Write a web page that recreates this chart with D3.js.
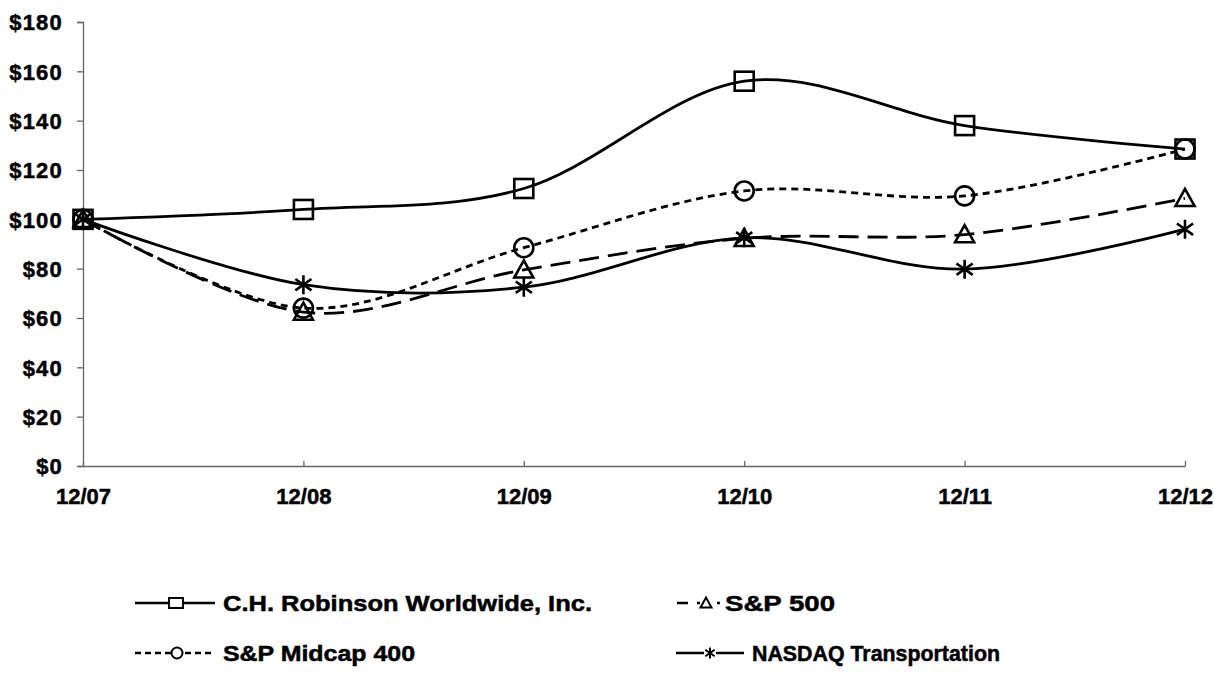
<!DOCTYPE html>
<html>
<head>
<meta charset="utf-8">
<script src="https://cdn.jsdelivr.net/npm/d3@7"></script>
<style>
  body { margin: 0; background: #fff; }
  svg text { font-family: "Liberation Sans", Arial, sans-serif; font-weight: bold; fill: #000; stroke: #000; stroke-width: 0.5px; }
</style>
</head>
<body>
<svg id="chart" width="1215" height="687"></svg>
<script>
// Periods on the x axis
var periods = ["12/07", "12/08", "12/09", "12/10", "12/11", "12/12"];

// Cumulative total return of $100 for each series
var chrw    = [100, 104, 112.5, 156, 138, 128.5];
var sp500   = [100, 62.4, 79.5, 92.3, 93.8, 108.5];
var midcap  = [100, 64, 88.5, 111.5, 109.5, 128.5];
var nasdaqT = [100, 73.5, 72.5, 92.5, 79.8, 96];

var seriesNames = ["C.H. Robinson Worldwide, Inc.", "S&P 500", "S&P Midcap 400", "NASDAQ Transportation"];
var yTicks = [0, 20, 40, 60, 80, 100, 120, 140, 160, 180];

var series = [
    {name: seriesNames[0], values: chrw,    marker: "square",   dash: null},
    {name: seriesNames[1], values: sp500,   marker: "triangle", dash: "20,9"},
    {name: seriesNames[2], values: midcap,  marker: "circle",   dash: "7,5"},
    {name: seriesNames[3], values: nasdaqT, marker: "asterisk", dash: null}
];

var svg = d3.select("#chart");

// Plot area
var plot = {left: 83, right: 1185, top: 22, bottom: 466};

var x = d3.scalePoint()
    .domain(periods)
    .range([plot.left, plot.right]);

var y = d3.scaleLinear()
    .domain([0, 180])
    .range([plot.bottom, plot.top]);

// Y axis
var yAxis = svg.append("g")
    .attr("transform", `translate(${plot.left},0)`)
    .call(d3.axisLeft(y)
        .tickValues(yTicks)
        .tickSize(6)
        .tickPadding(14)
        .tickFormat(function(d) { return "$" + d; }));

yAxis.select(".domain").attr("stroke", "#666").attr("stroke-width", 1.3);
yAxis.selectAll(".tick line").attr("stroke", "#666").attr("stroke-width", 1.3);
yAxis.selectAll("text")
    .style("font-size", "22px")
    .style("letter-spacing", "1.2px")
    .attr("dy", "0.35em");

// X axis with ticks pointing up
var xAxis = svg.append("g")
    .attr("transform", `translate(0,${plot.bottom})`)
    .call(d3.axisBottom(x)
        .tickSizeInner(-5)
        .tickSizeOuter(0)
        .tickPadding(22));

xAxis.select(".domain").attr("stroke", "#666").attr("stroke-width", 1.3);
xAxis.selectAll(".tick line").attr("stroke", "#666").attr("stroke-width", 1.3);
xAxis.selectAll("text").style("font-size", "22px");

// Smooth lines like the spreadsheet
var line = d3.line()
    .x(function(d, i) { return x(periods[i]); })
    .y(function(d) { return y(d); })
    .curve(d3.curveCardinal.tension(0));

svg.selectAll(".series")
    .data(series)
    .join("path")
    .attr("class", "series")
    .attr("fill", "none")
    .attr("stroke", "#000")
    .attr("stroke-width", 2.8)
    .attr("stroke-dasharray", function(d) { return d.dash; })
    .attr("d", function(d) { return line(d.values); });

// Draw a marker shape centred at cx, cy
function drawMarker(g, type, cx, cy, s, sw) {
    var h = s / 2;
    if (type === "square") {
        g.append("rect")
            .attr("x", cx - h).attr("y", cy - h)
            .attr("width", s).attr("height", s)
            .attr("fill", "none").attr("stroke", "#000").attr("stroke-width", sw);
    } else if (type === "circle") {
        g.append("circle")
            .attr("cx", cx).attr("cy", cy).attr("r", h)
            .attr("fill", "none").attr("stroke", "#000").attr("stroke-width", sw);
    } else if (type === "triangle") {
        g.append("path")
            .attr("d", `M${cx},${cy - h}L${cx + h},${cy + h * 0.8}L${cx - h},${cy + h * 0.8}Z`)
            .attr("fill", "none").attr("stroke", "#000").attr("stroke-width", sw);
    } else if (type === "asterisk") {
        g.append("path")
            .attr("d", `M${cx},${cy - h}L${cx},${cy + h}` +
                `M${cx - h * 0.85},${cy - h * 0.6}L${cx + h * 0.85},${cy + h * 0.6}` +
                `M${cx - h * 0.85},${cy + h * 0.6}L${cx + h * 0.85},${cy - h * 0.6}`)
            .attr("fill", "none").attr("stroke", "#000").attr("stroke-width", sw);
    }
}

var markers = svg.append("g");
series.forEach(function(s) {
    s.values.forEach(function(v, i) {
        drawMarker(markers, s.marker, x(periods[i]), y(v), 19, 2.6);
    });
});

// Legend, two rows by two columns (widths follow the scanned type)
var legendLayout = [
    {x0: 135, x1: 215, mx: 176, tx: 223, ty: 603, dash: null,   w: 369},
    {x0: 677, x1: 720, mx: 706, tx: 725, ty: 603, dash: "11,9", w: 110},
    {x0: 135, x1: 215, mx: 177, tx: 223, ty: 653, dash: "6,4",  w: 192},
    {x0: 676, x1: 744, mx: 710, tx: 752, ty: 653, dash: null,   w: 248}
];

var legend = svg.append("g");
series.forEach(function(s, i) {
    var p = legendLayout[i];
    legend.append("line")
        .attr("x1", p.x0).attr("x2", p.x1)
        .attr("y1", p.ty).attr("y2", p.ty)
        .attr("stroke", "#000")
        .attr("stroke-width", 2.5)
        .attr("stroke-dasharray", p.dash);
    if (s.marker === "square") {
        legend.append("rect")
            .attr("x", p.mx - 7).attr("y", p.ty - 5)
            .attr("width", 14).attr("height", 10)
            .attr("fill", "#fff").attr("stroke", "#000").attr("stroke-width", 2);
    } else {
        legend.append("rect")
            .attr("x", p.mx - 6).attr("y", p.ty - 6)
            .attr("width", 12).attr("height", 12)
            .attr("fill", "#fff");
        drawMarker(legend, s.marker, p.mx, p.ty, 11, 2);
    }
    legend.append("text")
        .attr("x", p.tx)
        .attr("y", p.ty)
        .attr("dy", "0.35em")
        .attr("textLength", p.w)
        .attr("lengthAdjust", "spacingAndGlyphs")
        .style("font-size", "22px")
        .text(s.name);
});
</script>
</body>
</html>
